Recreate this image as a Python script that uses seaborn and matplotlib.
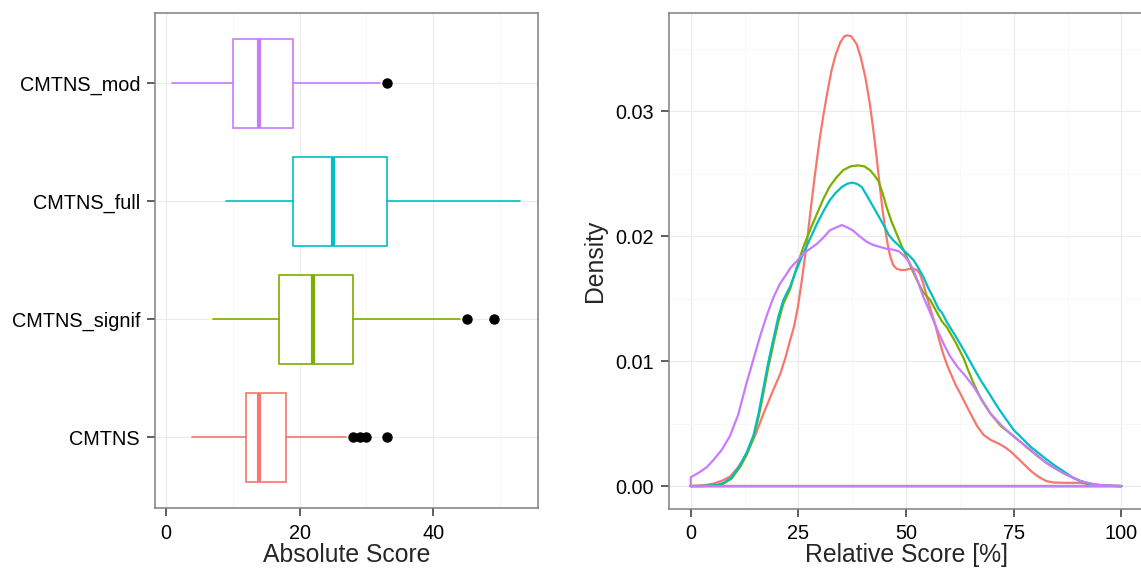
import numpy as np
import pandas as pd
import matplotlib
matplotlib.use("Agg")
import matplotlib.pyplot as plt
import seaborn as sns
from matplotlib.ticker import MultipleLocator, FormatStrFormatter

# left panel: box plot summary values
groups = ['CMTNS', 'CMTNS_signif', 'CMTNS_full', 'CMTNS_mod']
colors = ['#F8766D', '#7CAE00', '#00BFC4', '#C77CFF']
q1 = [12, 17, 19, 10]
med = [14, 22, 25, 14]
q3 = [18, 28, 33, 19]
whis_lo = [4, 7, 9, 1]
whis_hi = [27, 44, 53, 32]
outliers = [[28, 29, 30, 33], [45, 49], [], [33]]

# right panel: density curves (relative score [%] -> density)
cmtns_x = [0, 3, 5.3, 7.2, 9.1, 11, 13.0, 15, 16.9, 18.8, 20.8, 22.0, 23.1, 24.0, 24.8,
           25.6, 26.9, 27.9, 28.9, 29.9, 30.8, 31.8, 32.7, 33.7, 34.7, 35.6, 36.4, 37.3,
           38.5, 39.5, 40.5, 41.5, 42.4, 43.2, 43.9, 44.5, 45.1, 45.7, 46.3, 47.0, 47.8,
           48.8, 49.8, 50.8, 51.7, 52.5, 53.2, 54.0, 54.8, 55.7, 56.7, 57.6, 58.5, 59.5,
           60.5, 61.5, 62.6, 64.5, 66.5, 68.0, 69.6, 71.5, 73.0, 74.5, 76.0, 77.5, 79.0,
           80.5, 82.5, 84.3, 87, 90.5, 93.6, 96, 100]
cmtns_y = [0, 0.00005, 0.0002, 0.00042, 0.00075, 0.0015, 0.0026, 0.0041, 0.0058, 0.0074,
           0.0090, 0.0103, 0.0117, 0.0128, 0.0142, 0.0160, 0.0193, 0.0223, 0.0251, 0.0277,
           0.0297, 0.0317, 0.0333, 0.0346, 0.0355, 0.0360, 0.0361, 0.0360, 0.0354, 0.0343,
           0.0328, 0.0308, 0.0285, 0.0262, 0.0240, 0.0222, 0.0207, 0.0194, 0.0184, 0.0177,
           0.0174, 0.0173, 0.0173, 0.0174, 0.0174, 0.0173, 0.0170, 0.0162, 0.0152, 0.0141,
           0.0130, 0.0118, 0.0107, 0.0097, 0.0089, 0.0081, 0.0074, 0.0061, 0.0048, 0.0041,
           0.0037, 0.0034, 0.0031, 0.0027, 0.0022, 0.0017, 0.0012, 0.0008, 0.0004, 0.00028,
           0.00026, 0.00026, 0.0001, 0.00003, 0]

signif_x = [0, 3, 5, 6.5, 7.6, 9.5, 11.5, 13, 14.6, 15.8, 16.9, 18.0, 19.2, 20.3, 21.5,
            23.1, 24.5, 26.1, 27.7, 29.3, 30.8, 32.3, 33.8, 35.4, 37.1, 38.9, 40.3, 41.6,
            42.6, 43.6, 44.5, 45.5, 46.6, 47.8, 49.0, 50.2, 51.3, 52.5, 54.0, 55.6, 57.0,
            58.3, 59.5, 61.5, 63.4, 64.5, 65.7, 67.5, 69.6, 72, 75.0, 78, 80.5, 82.8, 84.7,
            86.7, 88.5, 90.5, 92, 94, 97, 100]
signif_y = [0, 0.00001, 0.00004, 0.0001, 0.0002, 0.0006, 0.00155, 0.0025, 0.0039, 0.0056,
            0.0075, 0.0095, 0.0114, 0.0131, 0.0146, 0.0158, 0.0174, 0.0191, 0.0205, 0.0218,
            0.0230, 0.0240, 0.0247, 0.0253, 0.0256, 0.02568, 0.0256, 0.0253, 0.0249, 0.0244,
            0.0235, 0.0223, 0.0212, 0.0202, 0.0192, 0.0183, 0.0174, 0.0165, 0.0155, 0.0149,
            0.0140, 0.0132, 0.0127, 0.0115, 0.0102, 0.0092, 0.0082, 0.0069, 0.0058, 0.0048,
            0.0040, 0.0031, 0.0024, 0.0018, 0.0014, 0.0010, 0.0007, 0.0004, 0.0002, 0.0001,
            0.00002, 0]

full_x = [0, 3, 5, 6.5, 7.6, 9.5, 11.5, 13, 14.6, 15.8, 16.9, 18.0, 19.2, 20.3, 21.5, 23.1,
          24.5, 26.1, 27.7, 29.3, 30.8, 32.3, 33.7, 35.1, 36.3, 37.4, 38.6, 39.7, 41.0,
          42.4, 43.8, 45.1, 46.0, 47.0, 48.2, 49.4, 50.6, 51.7, 52.8, 54.0, 55.1, 56.3,
          57.5, 58.3, 59.5, 61.5, 63.4, 65.3, 67.3, 69.3, 71.2, 73.1, 75.0, 77.0, 78.9,
          80.9, 82.8, 84.7, 86.7, 88.6, 90.5, 92.5, 94.4, 97, 100]
full_y = [0, 0.00001, 0.00004, 0.00012, 0.00025, 0.0007, 0.0017, 0.0027, 0.0041, 0.0059,
          0.0079, 0.0099, 0.0118, 0.0135, 0.0149, 0.0160, 0.0173, 0.0186, 0.0198, 0.0210,
          0.0220, 0.0229, 0.0235, 0.02395, 0.0242, 0.0243, 0.0242, 0.02395, 0.0232, 0.02235,
          0.0215, 0.0207, 0.0201, 0.01968, 0.0193, 0.01888, 0.0185, 0.0181, 0.0175, 0.01675,
          0.0159, 0.0151, 0.0142, 0.0139, 0.0131, 0.0120, 0.01088, 0.0097, 0.00848, 0.0074,
          0.00635, 0.0054, 0.00448, 0.0038, 0.00315, 0.0026, 0.00208, 0.0016, 0.00115,
          0.0007, 0.0004, 0.0002, 0.0001, 0.00002, 0]

mod_x = [0, 2, 3.7, 5.3, 7.2, 9.1, 11, 13.0, 14.6, 16.1, 17.7, 19.2, 20.7, 22.3, 23.1, 24.6,
         26.1, 27.7, 29.3, 30.8, 32.3, 33.7, 35.1, 36.4, 37.6, 39.2, 40.9, 42.4, 43.9, 45.5,
         47.0, 48.3, 49.4, 50.6, 51.7, 52.8, 54.0, 55.2, 56.3, 57.5, 58.7, 60.2, 61.9, 63.8,
         65.7, 67.6, 69.6, 72.3, 75.0, 78.9, 82.8, 86.7, 90.5, 94, 98, 100]
mod_y = [0.0007, 0.0011, 0.0015, 0.0021, 0.0029, 0.0040, 0.0057, 0.0083, 0.0102, 0.0120,
         0.0137, 0.0151, 0.0162, 0.0170, 0.01745, 0.0180, 0.0186, 0.0190, 0.0194, 0.0199,
         0.02048, 0.0207, 0.0209, 0.0207, 0.02048, 0.0200, 0.01955, 0.0193, 0.01915, 0.0190,
         0.01893, 0.0188, 0.01848, 0.0180, 0.0173, 0.0163, 0.01515, 0.0142, 0.0133, 0.0123,
         0.0114, 0.0104, 0.00955, 0.0088, 0.00795, 0.0069, 0.0058, 0.0048, 0.00395, 0.0029,
         0.0018, 0.0010, 0.0004, 0.00012, 0.00002, 0]

dens_x = [cmtns_x, signif_x, full_x, mod_x]
dens_y = [cmtns_y, signif_y, full_y, mod_y]

sns.set_style('white')
plt.rcParams['font.family'] = ['Liberation Sans', 'DejaVu Sans']

fig = plt.figure(figsize=(11.41, 5.69), dpi=100)
ax1 = fig.add_axes([0.13585, 0.10668, 0.33550, 0.87100])
ax2 = fig.add_axes([0.58650, 0.10615, 0.41525, 0.87153])

tick_size = 14.3
title_size = 17.8
grid_major = '#EBEBEB'
grid_minor = '#F7F7F7'

# ---- left: boxplot ----
stats = []
for i, g in enumerate(groups):
    stats.append(dict(label=g, q1=q1[i], med=med[i], q3=q3[i],
                      whislo=whis_lo[i], whishi=whis_hi[i], fliers=outliers[i]))
bp = ax1.bxp(stats, positions=range(len(groups)), widths=0.75, orientation='horizontal',
             showcaps=False, patch_artist=True,
             flierprops=dict(marker='o', markerfacecolor='black', markeredgecolor='black',
                             markersize=6.5))
for i, c in enumerate(colors):
    bp['boxes'][i].set_facecolor('white')
    bp['boxes'][i].set_edgecolor(c)
    bp['boxes'][i].set_linewidth(1.2)
    bp['medians'][i].set_color(c)
    bp['medians'][i].set_linewidth(3.0)
    for w in bp['whiskers'][2 * i:2 * i + 2]:
        w.set_color(c)
        w.set_linewidth(1.2)

lo = min(whis_lo)
hi = max(whis_hi)
pad = (hi - lo) * 0.05
ax1.set_xlim(lo - pad, hi + pad)
ax1.set_ylim(-0.6, len(groups) - 0.4)
ax1.set_yticks(range(len(groups)))
ax1.set_yticklabels(groups)
ax1.xaxis.set_major_locator(MultipleLocator(20))
ax1.xaxis.set_minor_locator(MultipleLocator(10))
ax1.set_xlabel('Absolute Score', fontsize=title_size, labelpad=0.0)
ax1.set_ylabel('')

# ---- right: density lines ----
for xs, ys, c in zip(dens_x, dens_y, colors):
    px = [xs[0]] + list(xs) + [xs[0]]
    py = [0] + list(ys) + [0]
    sns.lineplot(x=px, y=py, sort=False, estimator=None, color=c, lw=1.6, ax=ax2)

ymax = max(max(y) for y in dens_y)
ax2.set_xlim(-5, 105)
ax2.set_ylim(-ymax * 0.05, ymax * 1.05)
ax2.xaxis.set_major_locator(MultipleLocator(25))
ax2.xaxis.set_minor_locator(MultipleLocator(12.5))
ax2.yaxis.set_major_locator(MultipleLocator(0.01))
ax2.yaxis.set_minor_locator(MultipleLocator(0.005))
ax2.yaxis.set_major_formatter(FormatStrFormatter('%.2f'))
ax2.set_xlabel('Relative Score [%]', fontsize=title_size, labelpad=0.0)
ax2.set_ylabel('Density', fontsize=title_size, labelpad=6.0)

for ax in (ax1, ax2):
    ax.set_axisbelow(True)
    ax.grid(which='major', color=grid_major, lw=0.8)
    ax.grid(which='minor', color=grid_minor, lw=0.6)
    for s in ax.spines.values():
        s.set_color('#7F7F7F')
        s.set_linewidth(1.1)
    ax.tick_params(which='major', length=5.8, width=1.1, color='#333333',
                   labelsize=tick_size, labelcolor='black')
    ax.tick_params(axis='x', which='major', pad=5.5)
    ax.tick_params(axis='y', which='major', pad=5.0)
    ax.tick_params(which='minor', length=0)
    ax.tick_params(left=True, bottom=True)

fig.savefig('out.png', dpi=100)
